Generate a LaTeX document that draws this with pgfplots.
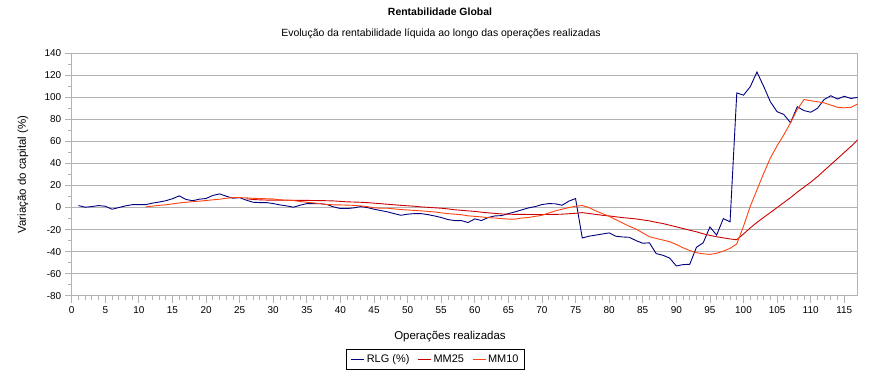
\documentclass[border=0pt]{standalone}
\usepackage{pgfplots}
\pgfplotsset{compat=1.18}
\usepackage{pgfplotstable}
\usepackage{fontspec}
\setmainfont{Liberation Sans}
\definecolor{rlg}{HTML}{000080}
\definecolor{mmA}{HTML}{CC0000}
\definecolor{mmB}{HTML}{FF420E}
\definecolor{gridc}{HTML}{B3B3B3}

\pgfplotstableread{
x y
1 1.8
2 0.3
3 0.9
4 1.8
5 1.2
6 -1.5
7 0
8 1.5
9 2.6
10 2.6
11 2.6
12 4
13 5
14 6.2
15 8
16 10.6
17 7.4
18 6.2
19 7.6
20 8.2
21 11
22 12.4
23 10.3
24 8.5
25 9
26 6.7
27 4.8
28 4.5
29 4.5
30 3.6
31 2.4
32 1.5
33 0.3
34 2.1
35 3.6
36 3.6
37 3.6
38 2.7
39 0.6
40 -0.9
41 -0.9
42 -0.3
43 0.9
44 0
45 -1.5
46 -2.7
47 -3.9
48 -5.5
49 -7
50 -6
51 -5.5
52 -5.5
53 -6.4
54 -7.6
55 -9
56 -10.9
57 -11.8
58 -11.8
59 -13.6
60 -10.3
61 -11.8
62 -9
63 -7.6
64 -7.3
65 -5.5
66 -3.9
67 -2.1
68 -0.3
69 0.9
70 2.7
71 3.6
72 3.4
73 2.1
74 5.8
75 8.2
76 -27.6
77 -26
78 -25
79 -24
80 -23
81 -26
82 -26.7
83 -27
84 -30
85 -32.4
86 -32
87 -41.8
88 -43.3
89 -45.8
90 -53
91 -51.8
92 -51.5
93 -36
94 -32
95 -17.6
96 -25
97 -10
98 -13
99 104
100 102
101 109.6
102 123
103 110
104 96
105 87
106 84.5
107 77
108 91.5
109 88
110 86.5
111 90
112 98
113 101.5
114 98.5
115 101
116 99
117 100
}\rlgdata

\pgfplotstableread{
x y
26 8.0
27 7.3
28 7.0
29 6.8
30 6.7
31 6.7
32 6.6
33 6.6
34 6.5
35 6.5
36 6.4
37 6.3
38 6.2
39 6.0
40 5.6
41 5.2
42 5.0
43 4.8
44 4.5
45 4.0
46 3.5
47 3.0
48 2.5
49 2.0
50 1.6
51 1.2
52 0.6
53 0.2
54 -0.2
55 -0.6
56 -1.2
57 -2.0
58 -2.5
59 -3.0
60 -3.5
61 -4.2
62 -4.8
63 -5.3
64 -5.8
65 -6.0
66 -6.2
67 -6.2
68 -6.3
69 -6.3
70 -6.3
71 -6.3
72 -6.2
73 -6.0
74 -5.6
75 -5.2
76 -4.6
77 -5.4
78 -6.2
79 -7.0
80 -7.6
81 -8.4
82 -9.1
83 -9.7
84 -10.3
85 -11.2
86 -12.1
87 -13.4
88 -14.5
89 -16.0
90 -17.5
91 -19.0
92 -20.6
93 -22.0
94 -23.8
95 -25.3
96 -26.5
97 -27.5
98 -28.5
99 -29.2
100 -24
101 -18.5
102 -13.5
103 -9
104 -4.5
105 0
106 4.5
107 9
108 14
109 18.5
110 23
111 28
112 33.5
113 39
114 44.5
115 50
116 55.5
117 61.5
}\mmtwentyfive

\pgfplotstableread{
x y
11 0.6
12 1.3
13 2.0
14 2.5
15 3.3
16 4.2
17 4.8
18 5.3
19 5.8
20 6.4
21 7.0
22 7.6
23 8.4
24 9.0
25 9.0
26 8.8
27 8.4
28 8.2
29 8.0
30 7.8
31 7.0
32 6.8
33 6.4
34 5.5
35 4.8
36 4.2
37 3.5
38 2.8
39 2.5
40 2.4
41 2.2
42 2.0
43 1.5
44 0.8
45 -0.2
46 -0.6
47 -0.6
48 -1.2
49 -1.8
50 -2.2
51 -2.6
52 -3.0
53 -3.5
54 -4.0
55 -4.8
56 -5.5
57 -6.0
58 -6.5
59 -7.5
60 -8.0
61 -8.5
62 -9.2
63 -9.5
64 -10.0
65 -10.5
66 -10.5
67 -9.5
68 -9.0
69 -8.0
70 -7.0
71 -5.0
72 -3.0
73 -1.5
74 0.0
75 1.2
76 1.8
77 0.0
78 -3.0
79 -5.5
80 -8.0
81 -11.0
82 -14.0
83 -17.0
84 -19.5
85 -23.0
86 -26.5
87 -28.0
88 -29.5
89 -31.0
90 -33.5
91 -36.5
92 -39.0
93 -41.0
94 -42.0
95 -42.5
96 -41.5
97 -39.5
98 -37.0
99 -33.0
100 -17.0
101 1.0
102 16.0
103 31.0
104 45.0
105 56.0
106 66.0
107 77.0
108 89.0
109 98.0
110 97.0
111 96.0
112 95.0
113 93.0
114 91.0
115 90.5
116 91.0
117 94.0
}\mmten

\begin{document}
\begin{tikzpicture}
\path[use as bounding box] (-71.7bp,-84.3bp) rectangle (818.3bp,295.7bp);
\begin{axis}[
  name=ax, at={(0,0)}, anchor=south west,
  scale only axis, width=786bp, height=242.4bp,
  xmin=0, xmax=117, ymin=-80, ymax=140,
  xtick={0,5,...,115}, minor x tick num=4,
  ytick={-80,-60,...,140}, minor y tick num=1,
  tick pos=left,
  ymajorgrids,
  major grid style={gridc, line width=0.8bp},
  axis line style={gridc, line width=0.8bp},
  tick style={gridc, line width=0.8bp},
  major tick length=7bp, minor tick length=4bp,
  tick align=outside,
  /pgf/number format/assume math mode=true,
  ticklabel style={font=\fontsize{10}{12}\selectfont, text=black},
  xlabel={Operações realizadas},
  ylabel={Variação do capital (\%)},
  label style={font=\fontsize{11.5}{13}\selectfont},
  xlabel style={at={(axis description cs:0.4813,-0.1704)}, anchor=center},
  ylabel style={at={(axis description cs:-0.0620,0.5)}, anchor=center},
  legend columns=3,
  legend style={at={(axis description cs:0.463,-0.2632)}, anchor=center,
    draw=black, line width=0.7bp, font=\fontsize{11}{13}\selectfont,
    inner xsep=4bp, inner ysep=3bp,
    /tikz/every even column/.append style={column sep=6bp}},
  legend image code/.code={\draw[#1, line width=1.1bp] (0bp,0bp) -- (13bp,0bp);},
  every axis plot/.append style={line width=0.9bp, sharp plot, mark=none},
]
\addplot[color=rlg, draw=rlg] table[x=x,y=y] {\rlgdata};
\addlegendentry{RLG (\%)}
\addplot[color=mmA, draw=mmA] table[x=x,y=y] {\mmtwentyfive};
\addlegendentry{MM25}
\addplot[color=mmB, draw=mmB] table[x=x,y=y] {\mmten};
\addlegendentry{MM10}
\end{axis}
\node[font=\bfseries\fontsize{10.5}{12}\selectfont] at (368.3bp,283.7bp) {Rentabilidade Global};
\node[font=\fontsize{10.5}{12}\selectfont] at (369.3bp,261.5bp) {Evolução da rentabilidade líquida ao longo das operações realizadas};
\end{tikzpicture}
\end{document}
